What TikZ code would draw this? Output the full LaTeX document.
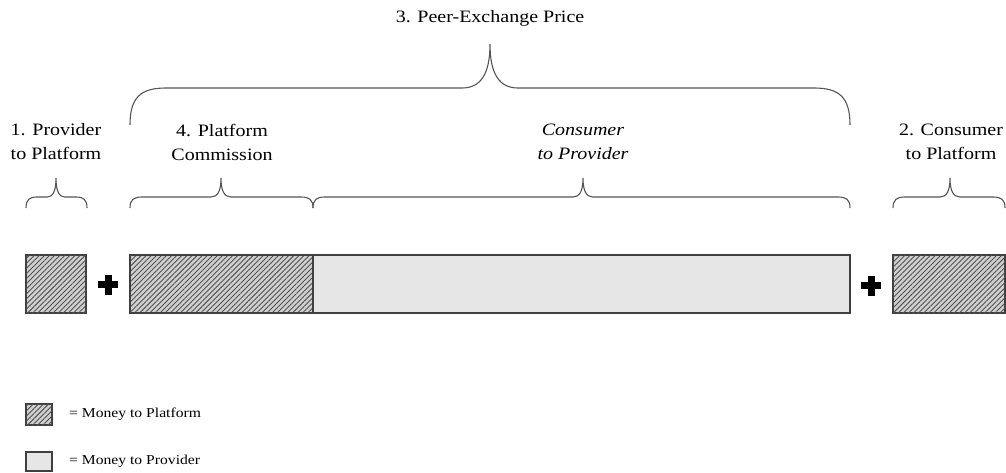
\documentclass[tikz,border=0pt]{standalone}
\usepackage{fontspec}
\setmainfont{Liberation Serif}[FakeStretch=1.15]
\usetikzlibrary{patterns.meta}
\definecolor{edge}{HTML}{404040}
\definecolor{bracec}{HTML}{555555}
\definecolor{provfill}{HTML}{E6E6E6}
\definecolor{hatchbg}{HTML}{D0D0D0}
\definecolor{hatchln}{HTML}{505050}
\newcommand\drawbrace[8]{%
  \draw[bracestyle] (#1,#4) .. controls (#1,{#4-(#4-#5)*0.75}) and ({#1+#7*0.3},#5) .. ({#1+#7},#5)
    -- ({#2-#8},#5) .. controls ({#2-#8*0.35},#5) and (#2,{#5-(#5-#6)*0.3}) .. (#2,#6)
    .. controls (#2,{#5-(#5-#6)*0.3}) and ({#2+#8*0.35},#5) .. ({#2+#8},#5)
    -- ({#3-#7},#5) .. controls ({#3-#7*0.3},#5) and (#3,{#4-(#4-#5)*0.75}) .. (#3,#4);}
\tikzset{
  bracestyle/.style={draw=bracec, line width=1.1pt},
  hatchbox/.style={draw=edge, line width=1.1pt, fill=hatchbg,
    postaction={pattern={Lines[angle=45,distance=3.6pt,line width=0.9pt]}, pattern color=hatchln}},
  provbox/.style={draw=edge, line width=1.1pt, fill=provfill},
  plusbar/.style={fill=black, draw=none},
  lab/.style={align=center, inner sep=0pt, font=\fontsize{17.4}{24}\selectfont},
  leg/.style={anchor=west, inner sep=0pt, font=\fontsize{13.6}{16}\selectfont},
}
\begin{document}
\begin{tikzpicture}[x=1pt,y=-1pt]
\useasboundingbox (0,0) rectangle (1006,473);
% bars
\draw[hatchbox] (26,255) rectangle (86,313);
\draw[hatchbox] (130,255) rectangle (313,313);
\draw[provbox] (313,255) rectangle (850,313);
\draw[hatchbox] (893,255) rectangle (1005,313);
\draw[edge, line width=1.1pt] (130,255) rectangle (850,313);
% plus signs
\fill[plusbar] (98,281) rectangle (118,288);
\fill[plusbar] (104.5,274.5) rectangle (111.5,294.5);
\fill[plusbar] (861,282) rectangle (881,289);
\fill[plusbar] (867.5,275.5) rectangle (874.5,295.5);
% small braces
\drawbrace{26}{56}{87}{208}{197}{178}{11}{9}
\drawbrace{130}{221}{313}{208}{197}{178}{12}{10}
\drawbrace{313}{583}{850}{208}{197}{178}{12}{10}
\drawbrace{893}{950}{1005}{208}{197}{178}{12}{10}
% big brace
\drawbrace{130}{490}{850}{125}{88}{44}{36}{28}
% labels
\node[lab] (l1) at (56,142) {1. Provider\\to Platform};
\node[lab] (l4) at (222,142) {4. Platform\\Commission};
\node[lab, font=\fontsize{17.4}{24}\selectfont\itshape] (lc) at (583,142) {Consumer\\to Provider};
\node[lab] (l2) at (951,142) {2. Consumer\\to Platform};
\node[lab] (l3) at (490,18) {3. Peer-Exchange Price};
% legend
\draw[hatchbox] (26,404) rectangle (52,425);
\draw[provbox] (26,452) rectangle (52,471);
\node[leg] (lg1) at (69,414) {= Money to Platform};
\node[leg] (lg2) at (69,461) {= Money to Provider};
\end{tikzpicture}
\end{document}
